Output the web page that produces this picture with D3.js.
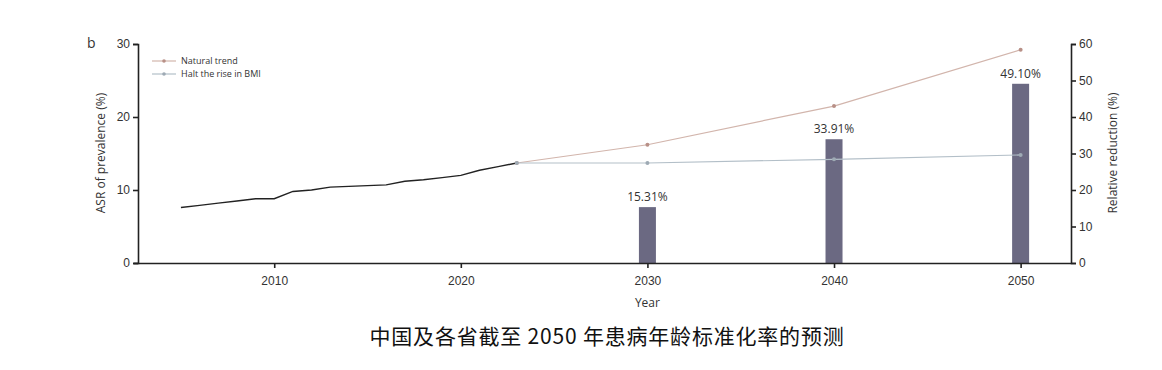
<!DOCTYPE html>
<html>
<head>
<meta charset="utf-8">
<script src="https://cdn.jsdelivr.net/npm/d3@7"></script>
<style>
  body { margin: 0; background: #fff; }
  svg { display: block; font-family: "Open Sans", "Noto Sans", sans-serif; }
  .axis path, .axis line { stroke: #222; stroke-width: 1.6; }
  .axis text { fill: #333; font-size: 12px; }
</style>
</head>
<body>
<script>
// historical ASR (%), 2005-2023
var histYears = [2005, 2006, 2007, 2008, 2009, 2010, 2011, 2012, 2013, 2014,
                 2015, 2016, 2017, 2018, 2019, 2020, 2021, 2022, 2023]
var histValues = [7.6, 7.9, 8.2, 8.5, 8.8, 8.8, 9.8, 10.0, 10.4, 10.5,
                  10.6, 10.7, 11.2, 11.4, 11.7, 12.0, 12.7, 13.2, 13.7]

// projections
var projYears = [2023, 2030, 2040, 2050]
var naturalTrend = [13.7, 16.2, 21.5, 29.2]
var haltBMI = [13.7, 13.7, 14.2, 14.8]

// relative reduction bars
var barYears = [2030, 2040, 2050]
var reduction = [15.31, 33.91, 49.10]

var xTicks = [2010, 2020, 2030, 2040, 2050]
var yLeftTicks = [0, 10, 20, 30]
var yRightTicks = [0, 10, 20, 30, 40, 50, 60]

var W = 1162, H = 370
var svg = d3.select('body').append('svg')
    .attr('width', W)
    .attr('height', H)

var x = d3.scaleLinear().domain([2002.7, 2052.7]).range([138, 1071])
var yL = d3.scaleLinear().domain([0, 30]).range([263, 44])
var yR = d3.scaleLinear().domain([0, 60]).range([263, 44])

// bars first, lines drawn over them
svg.append('g').selectAll('rect')
    .data(barYears)
    .enter().append('rect')
      .attr('x', function(d) { return x(d) - 8.5 })
      .attr('width', 17)
      .attr('y', function(d, i) { return yR(reduction[i]) })
      .attr('height', function(d, i) { return yR(0) - yR(reduction[i]) })
      .attr('fill', '#6b6982')

svg.append('g').selectAll('text')
    .data(barYears)
    .enter().append('text')
      .attr('x', function(d) { return x(d) })
      .attr('y', function(d, i) { return yR(reduction[i]) - 6 })
      .attr('text-anchor', 'middle')
      .attr('font-size', 12)
      .attr('fill', '#333')
      .text(function(d, i) { return reduction[i].toFixed(2) + '%' })

var line = d3.line()
    .x(function(d) { return x(d[0]) })
    .y(function(d) { return yL(d[1]) })

svg.append('path')
    .attr('d', line(histYears.map(function(d, i) { return [d, histValues[i]] })))
    .attr('fill', 'none')
    .attr('stroke', '#222')
    .attr('stroke-width', 1.4)

var series = [
  { name: 'Natural trend', values: naturalTrend, line: '#d2b5ac', dot: '#b89087' },
  { name: 'Halt the rise in BMI', values: haltBMI, line: '#b3bfc8', dot: '#9eaab4' }
]

series.forEach(function(s) {
  var pts = projYears.map(function(d, i) { return [d, s.values[i]] })
  svg.append('path')
      .attr('d', line(pts))
      .attr('fill', 'none')
      .attr('stroke', s.line)
      .attr('stroke-width', 1.2)
  svg.append('g').selectAll('circle')
      .data(pts)
      .enter().append('circle')
        .attr('cx', function(d) { return x(d[0]) })
        .attr('cy', function(d) { return yL(d[1]) })
        .attr('r', 2)
        .attr('fill', s.dot)
})

// axes
svg.append('g')
    .attr('class', 'axis')
    .attr('transform', 'translate(0,263)')
    .call(d3.axisBottom(x).tickValues(xTicks).tickFormat(d3.format('d')).tickSize(5).tickSizeOuter(0))
    .call(function(g) { g.select('.domain').attr('d', 'M134,0.5H1071') })
    .selectAll('text').attr('dy', '1.2em')

svg.append('g')
    .attr('class', 'axis')
    .attr('transform', 'translate(138,0)')
    .call(d3.axisLeft(yL).tickValues(yLeftTicks).tickSize(5).tickSizeOuter(5))

svg.append('g')
    .attr('class', 'axis')
    .attr('transform', 'translate(1071,0)')
    .call(d3.axisRight(yR).tickValues(yRightTicks).tickSize(5).tickSizeOuter(5))

// axis titles
svg.append('text')
    .attr('transform', 'translate(105,153) rotate(-90)')
    .attr('text-anchor', 'middle')
    .attr('font-size', 12)
    .attr('fill', '#333')
    .text('ASR of prevalence (%)')

svg.append('text')
    .attr('transform', 'translate(1117,153) rotate(-90)')
    .attr('text-anchor', 'middle')
    .attr('font-size', 12)
    .attr('fill', '#333')
    .text('Relative reduction (%)')

svg.append('text')
    .attr('x', x(2030))
    .attr('y', 307)
    .attr('text-anchor', 'middle')
    .attr('font-size', 12)
    .attr('fill', '#333')
    .text('Year')

svg.append('text')
    .attr('x', 87)
    .attr('y', 48)
    .attr('font-size', 14)
    .attr('fill', '#333')
    .text('b')

// legend
var lg = svg.append('g').attr('transform', 'translate(152,61)')
series.forEach(function(s, i) {
  var row = lg.append('g').attr('transform', 'translate(0,' + (i * 13) + ')')
  row.append('line').attr('x1', 0).attr('x2', 24).attr('stroke', s.line).attr('stroke-width', 1.2)
  row.append('circle').attr('cx', 12).attr('r', 1.8).attr('fill', s.dot)
  row.append('text')
      .attr('x', 29)
      .attr('dy', '0.35em')
      .attr('font-size', 9)
      .attr('fill', '#333')
      .text(s.name)
})

// caption
svg.append('text')
    .attr('x', 607)
    .attr('y', 344)
    .attr('text-anchor', 'middle')
    .attr('font-family', '"Noto Sans CJK SC", sans-serif')
    .attr('font-size', 21)
    .attr('letter-spacing', 0.8)
    .attr('fill', '#111')
    .text('中国及各省截至 2050 年患病年龄标准化率的预测')
</script>
</body>
</html>
